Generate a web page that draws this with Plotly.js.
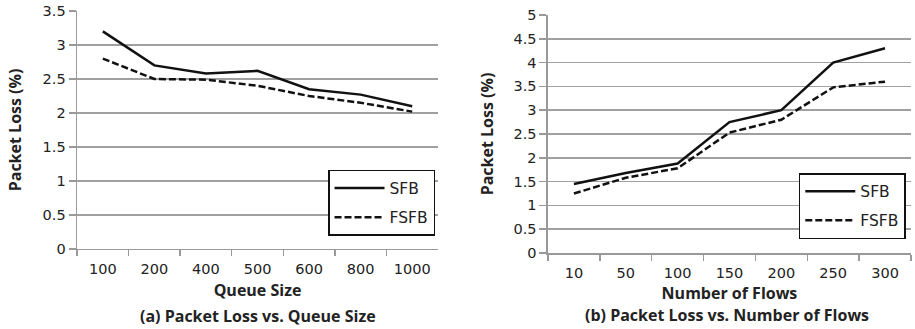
<!DOCTYPE html>
<html>
<head>
<meta charset="utf-8">
<script src="https://cdn.plot.ly/plotly-3.0.1.min.js"></script>
<style>html,body{margin:0;padding:0;background:#fff;}#chart{width:915px;height:329px;}</style>
</head>
<body>
<div id="chart"></div>
<script>
// Data
var queueSizes = ["100", "200", "400", "500", "600", "800", "1000"];
var sfbQueue = [3.2, 2.7, 2.58, 2.62, 2.35, 2.27, 2.1];
var fsfbQueue = [2.8, 2.5, 2.49, 2.4, 2.25, 2.15, 2.02];

var numFlows = ["10", "50", "100", "150", "200", "250", "300"];
var sfbFlows = [1.45, 1.68, 1.88, 2.75, 3.0, 4.0, 4.3];
var fsfbFlows = [1.25, 1.58, 1.78, 2.53, 2.8, 3.48, 3.6];

var seriesNames = ["SFB", "FSFB"];
var subTitles = ["(a) Packet Loss vs. Queue Size", "(b) Packet Loss vs. Number of Flows"];

var lineColor = "#111111";
var tickFont = {family: "DejaVu Sans", size: 14.5, color: "#222"};
var titleFont = {family: "Open Sans", size: 16, color: "#222", weight: 700};

var traces = [
  {x: queueSizes, y: sfbQueue, name: seriesNames[0], xaxis: "x", yaxis: "y", legend: "legend", legendgroup: "a1",
   mode: "lines", line: {color: lineColor, width: 2.5}},
  {x: queueSizes, y: fsfbQueue, name: seriesNames[1], xaxis: "x", yaxis: "y", legend: "legend", legendgroup: "a2",
   mode: "lines", line: {color: lineColor, width: 2.5, dash: "7px,3px"}},
  {x: numFlows, y: sfbFlows, name: seriesNames[0], xaxis: "x2", yaxis: "y2", legend: "legend2", legendgroup: "b1",
   mode: "lines", line: {color: lineColor, width: 2.5}},
  {x: numFlows, y: fsfbFlows, name: seriesNames[1], xaxis: "x2", yaxis: "y2", legend: "legend2", legendgroup: "b2",
   mode: "lines", line: {color: lineColor, width: 2.5, dash: "7px,3px"}}
];

function xax(domain, title, anchor, standoff) {
  return {
    domain: domain, anchor: anchor, type: "category", range: [-0.5, 6.5],
    showline: true, linecolor: "#999", linewidth: 1.5,
    ticks: "outside", tickson: "boundaries", ticklen: 6, tickcolor: "#999", tickwidth: 1.5,
    ticklabelstandoff: 6,
    showgrid: false, zeroline: false, tickfont: tickFont, automargin: false,
    title: {text: title, font: titleFont, standoff: standoff}
  };
}
function yax(domain, range, title, anchor, standoff) {
  return {
    domain: domain, anchor: anchor, range: range, dtick: 0.5,
    showline: true, linecolor: "#999", linewidth: 1.5,
    ticks: "outside", ticklen: 7, tickcolor: "#999", tickwidth: 1.5,
    showgrid: true, gridcolor: "#a0a0a0", gridwidth: 1.5, zeroline: false,
    tickfont: tickFont, automargin: false,
    title: {text: title, font: titleFont, standoff: standoff}
  };
}

var legendBase = {
  bgcolor: "#fff", bordercolor: "#111", borderwidth: 1.5,
  font: {family: "DejaVu Sans", size: 15.5, color: "#222"},
  xanchor: "left", yanchor: "top", tracegroupgap: 6, itemwidth: 50
};

var layout = {
  width: 915, height: 329,
  margin: {l: 0, r: 0, t: 0, b: 0},
  paper_bgcolor: "#fff", plot_bgcolor: "#fff",
  showlegend: true,
  xaxis: xax([0.0842, 0.4787], "Queue Size", "y", 9),
  yaxis: yax([0.2432, 0.9666], [0, 3.5], "Packet Loss (%)", "x", 17),
  xaxis2: xax([0.5989, 0.9956], "Number of Flows", "y2", 8),
  yaxis2: yax([0.231, 0.9544], [0, 5], "Packet Loss (%)", "x2", 16),
  legend: Object.assign({}, legendBase, {x: 0.3585, y: 0.4833}),
  legend2: Object.assign({}, legendBase, {x: 0.873, y: 0.474}),
  annotations: [
    {text: subTitles[0], xref: "paper", yref: "paper", x: 0.282, y: 1 - 316/329, xanchor: "center", yanchor: "middle",
     showarrow: false, font: titleFont},
    {text: subTitles[1], xref: "paper", yref: "paper", x: 0.795, y: 1 - 315/329, xanchor: "center", yanchor: "middle",
     showarrow: false, font: titleFont}
  ]
};

Plotly.newPlot("chart", traces, layout, {displayModeBar: false, staticPlot: true});
</script>
</body>
</html>
